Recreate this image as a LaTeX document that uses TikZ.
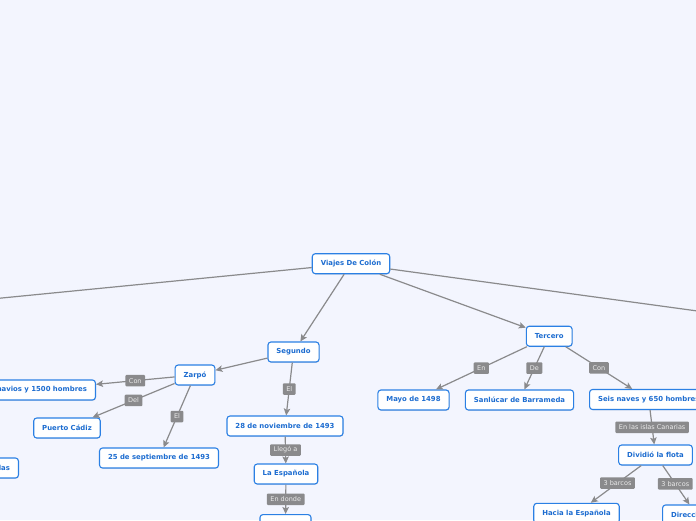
\documentclass[tikz,border=0pt]{standalone}
\usepackage{fontspec}
\setmainfont{DejaVu Sans}
\usepackage{tikz}
\usetikzlibrary{arrows.meta,shadows}
\definecolor{mapblue}{RGB}{43,128,228}
\definecolor{mapink}{RGB}{28,108,208}
\definecolor{mapgray}{RGB}{138,138,140}
\definecolor{mapbg}{RGB}{243,245,254}

\begin{document}
\begin{tikzpicture}[
  x=1pt, y=-1pt,
  topic/.style={draw=mapblue, fill=white, line width=1.1pt, rounded corners=3pt,
                text=mapink, font=\fontsize{6.9}{8}\selectfont\bfseries,
                inner xsep=8.5pt, minimum height=20pt,
                drop shadow={shadow xshift=0.5pt, shadow yshift=-0.8pt, opacity=0.2}},
  tag/.style={fill=mapgray, text=white!92!black, rounded corners=1pt,
              font=\fontsize{6.5}{7.5}\selectfont, inner xsep=3.5pt,
              inner ysep=0pt, minimum height=11.5pt},
  arr/.style={-{Stealth[length=7pt,width=6.5pt,inset=1.5pt]}, line width=1.2pt, draw=mapgray},
  line/.style={line width=1.2pt, draw=mapgray}
]
\fill[mapbg] (0,0) rectangle (696,520);
\useasboundingbox (0,0) rectangle (696,520);
\clip (0,0) rectangle (696,520);

\node[topic] (viajes) at (351,263.7) {Viajes De Colón};
\coordinate (primero) at (-100,308);
\coordinate (cuarto) at (800,325);
\node[topic] (segundo) at (293.5,352) {Segundo};
\node[topic] (tercero) at (549.2,336.2) {Tercero};

% segundo viaje
\node[topic] (zarpo) at (195,375) {Zarpó};
\node[topic, anchor=east] (navios) at (96,390) {17 navios y 1500 hombres};
\node[topic] (cadiz) at (67,428) {Puerto Cádiz};
\node[topic] (sept) at (159,458) {25 de septiembre de 1493};
\node[topic, anchor=east] (antillas) at (19,468) {Antillas};
\node[topic] (nov) at (285,426) {28 de noviembre de 1493};
\node[topic] (espanola) at (286,474) {La Española};
\node[topic, anchor=north, minimum width=51pt] (donde) at (285.5,514) {};

% tercer viaje
\node[topic] (mayo) at (413.5,400) {Mayo de 1498};
\node[topic] (sanlucar) at (519.5,400) {Sanlúcar de Barrameda};
\node[topic, anchor=west] (naves) at (589,399.5) {Seis naves y 650 hombres};
\node[topic] (flota) at (655.5,455) {Dividió la flota};
\node[topic] (hacia) at (576.5,513.3) {Hacia la Española};
\node[topic, anchor=west] (direccion) at (662,515) {Dirección sur};

\draw[line] (viajes) -- (primero);
\draw[line] (viajes) -- (cuarto);
\draw[arr] (viajes) -- (segundo);
\draw[arr] (viajes) -- (tercero);

\draw[arr] (segundo) -- (zarpo);
\draw[arr] (segundo) -- node[tag] {El} (nov);
\draw[arr] (zarpo) -- node[tag] {Con} (navios);
\draw[arr] (zarpo) -- node[tag] {Del} (cadiz);
\draw[arr] (zarpo) -- node[tag] {El} (sept);
\draw[arr] (nov) -- node[tag] {Llegó a} (espanola);
\draw[arr] (espanola) -- node[tag] {En donde} (donde);

\draw[arr] (tercero) -- node[tag] {En} (mayo);
\draw[arr] (tercero) -- node[tag] {De} (sanlucar);
\draw[arr] (tercero) -- node[tag] {Con} (naves);
\draw[arr] (naves) -- node[tag] {En las islas Canarias} (flota);
\draw[arr] (flota) -- node[tag, pos=0.47] {3 barcos} (hacia);
\draw[arr] (flota) -- node[tag, pos=0.47] {3 barcos} (direccion);
\end{tikzpicture}
\end{document}
